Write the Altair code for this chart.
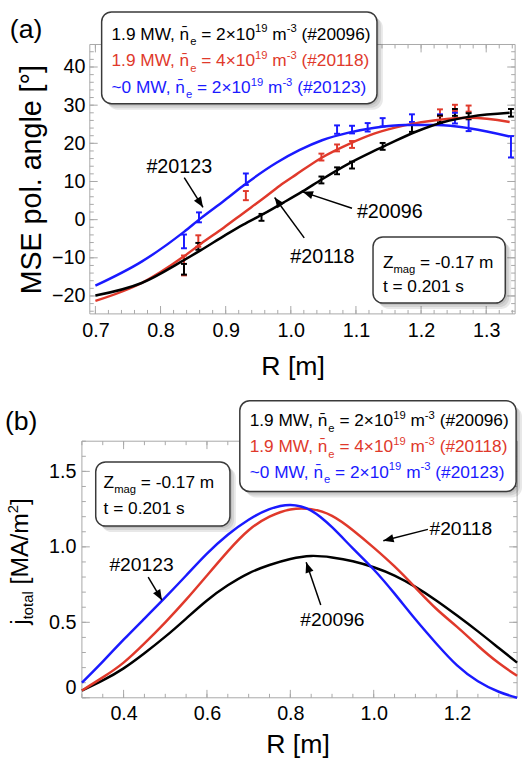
import math
import altair as alt
import pandas as pd

FONT = "Liberation Sans"
BLACK, RED, BLUE = "#000000", "#e0392b", "#1a1aff"
FRAME = "#a8a8a8"

# ---------------- panel (a): fitted MSE pitch-angle curves ----------------
a_black_R = [0.700, 0.771, 0.836, 0.862, 0.900, 0.927, 0.958, 0.990, 1.018, 1.048, 1.089, 1.124, 1.149, 1.190, 1.235, 1.276, 1.336]
a_black_ang = [-19.9, -16.6, -10.6, -8.0, -4.0, -1.3, 1.5, 4.6, 7.4, 10.6, 14.7, 17.7, 19.7, 22.9, 25.6, 27.0, 28.0]
a_red_R = [0.700, 0.771, 0.836, 0.862, 0.897, 0.927, 0.958, 0.983, 1.008, 1.048, 1.089, 1.129, 1.175, 1.225, 1.276, 1.336]
a_red_ang = [-21.3, -16.6, -9.6, -6.3, -2.1, 1.7, 5.6, 8.9, 11.8, 16.3, 19.8, 22.6, 24.7, 26.1, 26.7, 25.6]
a_blue_R = [0.700, 0.771, 0.836, 0.862, 0.897, 0.927, 0.978, 1.013, 1.048, 1.089, 1.129, 1.175, 1.225, 1.276, 1.336]
a_blue_ang = [-17.3, -11.0, -3.2, 0.4, 4.9, 8.9, 14.9, 18.2, 20.8, 22.8, 24.1, 24.8, 24.8, 23.9, 21.8]

# ---------------- panel (a): measured points with error bars ----------------
a_black_pR = [0.836, 0.858, 0.955, 1.047, 1.071, 1.094, 1.141, 1.186, 1.229, 1.252, 1.273, 1.338]
a_black_pA = [-13.0, -7.0, 0.6, 10.4, 12.8, 14.3, 19.2, 23.9, 26.4, 28.1, 27.1, 28.0]
a_black_pE = [1.4, 0.9, 0.9, 0.9, 0.9, 0.9, 0.9, 0.9, 0.9, 0.9, 0.8, 1.0]
a_red_pR = [0.836, 0.858, 0.931, 1.047, 1.071, 1.094, 1.229, 1.252, 1.273]
a_red_pA = [-12.0, -5.6, 6.3, 16.4, 18.8, 19.7, 28.0, 29.3, 29.1]
a_red_pE = [2.6, 1.5, 1.2, 0.9, 0.9, 0.9, 0.9, 0.8, 0.8]
a_blue_pR = [0.836, 0.859, 0.931, 1.071, 1.094, 1.118, 1.141, 1.186, 1.229, 1.252, 1.273, 1.338]
a_blue_pA = [-5.7, 0.6, 10.6, 23.6, 23.6, 24.2, 25.5, 26.6, 26.4, 26.6, 24.9, 19.1]
a_blue_pE = [1.8, 1.3, 1.5, 1.1, 1.0, 1.1, 1.1, 1.0, 1.2, 1.4, 1.7, 2.8]

# ---------------- panel (b): total current density ----------------
b_R = [0.30, 0.35, 0.40, 0.45, 0.50, 0.55, 0.60, 0.65, 0.70, 0.75, 0.80, 0.85, 0.90, 0.95,
       1.00, 1.05, 1.10, 1.15, 1.20, 1.25, 1.30, 1.344]
b_black_j = [0.048, 0.115, 0.195, 0.295, 0.405, 0.525, 0.645, 0.745, 0.825, 0.880, 0.920, 0.940, 0.930, 0.905,
             0.865, 0.810, 0.735, 0.645, 0.545, 0.440, 0.330, 0.233]
b_red_j = [0.048, 0.135, 0.233, 0.360, 0.500, 0.650, 0.810, 0.970, 1.110, 1.200, 1.248, 1.250, 1.205, 1.110,
           0.995, 0.870, 0.730, 0.590, 0.470, 0.345, 0.230, 0.146]
b_blue_j = [0.100, 0.240, 0.385, 0.525, 0.665, 0.810, 0.955, 1.080, 1.180, 1.250, 1.278, 1.240, 1.130, 0.990,
            0.850, 0.690, 0.520, 0.360, 0.215, 0.110, 0.040, 0.000]

# legend / annotation texts
legend_lines = [
    (BLACK, [("1.9 MW, n\u0304", "n"), ("e", "sub"), (" = 2\u00d710", "n"), ("19", "sup"), (" m", "n"), ("-3", "sup"), (" (#20096)", "n")]),
    (RED, [("1.9 MW, n\u0304", "n"), ("e", "sub"), (" = 4\u00d710", "n"), ("19", "sup"), (" m", "n"), ("-3", "sup"), (" (#20118)", "n")]),
    (BLUE, [("~0 MW, n\u0304", "n"), ("e", "sub"), (" = 2\u00d710", "n"), ("19", "sup"), (" m", "n"), ("-3", "sup"), (" (#20123)", "n")]),
]
zmag_lines = [
    [("Z", "n"), ("mag", "sub"), (" = -0.17 m", "n")],
    [("t = 0.201 s", "n")],
]

# ---------------- geometry ----------------
TW, TH = 431, 273
TXD, TYD = [0.6914, 1.3444], [-24.7, 45.9]
BW, BH = 433, 260
BX0 = -8
BXD, BYD = [0.3, 1.344], [0.0, 1.7]

CW = {'0': .556, '1': .556, '2': .556, '3': .556, '4': .556, '5': .556, '6': .556, '7': .556, '8': .556, '9': .556,
      '.': .278, ' ': .278, ',': .278, 'M': .833, 'W': .944, 'n': .556, 'e': .556, '=': .584, '\u00d7': .584,
      'm': .833, '-': .333, '(': .333, ')': .333, '#': .556, '~': .584, 'Z': .611, 'a': .556, 'g': .556,
      't': .278, 's': .5, 'o': .556, 'l': .222, 'j': .222, '[': .278, ']': .278, 'A': .667, '/': .278}


def tw(s, size):
    return sum(CW.get(c, 0.556) for c in s if c != '\u0304') * size


def seg_rows(segs, px0, py0, color, base=17.5):
    rows = []
    x = px0
    for txt, kind in segs:
        if kind == "n":
            sz, dy = base, 0.0
        elif kind == "sub":
            sz, dy = base * 0.65, base * 0.32
        else:
            sz, dy = base * 0.65, -base * 0.42
        lead = len(txt) - len(txt.lstrip(" "))
        rows.append(dict(text=txt.strip(), px=x + tw(" " * lead, sz), py=py0 + dy, size=sz, color=color, angle=0))
        x += tw(txt, sz)
    return rows


def make_panel(W, H, X0, xd, yd, xaxis, yaxis, curves, pts, texts_left, texts_center, boxes, arrows, ticks,
               interp="monotone", anchor=False):
    xr = [X0, W]
    pw = W - X0
    sx = pw / (xd[1] - xd[0])
    sy = H / (yd[1] - yd[0])

    def px2x(px):
        return xd[0] + (px - X0) / sx

    def py2y(py):
        return yd[1] - py / sy

    def X(f):
        return alt.X(f, type="quantitative", scale=alt.Scale(domain=xd, range=xr, nice=False, zero=False),
                     axis=xaxis, title=None)

    def Y(f):
        return alt.Y(f, type="quantitative", scale=alt.Scale(domain=yd, nice=False, zero=False),
                     axis=yaxis, title=None)

    layers = []
    if anchor:
        layers.append(alt.Chart(pd.DataFrame({"a": [0]})).mark_rect(opacity=0).encode(
            x=alt.value(-91), x2=alt.value(0), y=alt.value(-40), y2=alt.value(0)))
    # frame
    layers.append(alt.Chart(pd.DataFrame({"a": [0]})).mark_rect(fillOpacity=0, stroke=FRAME, strokeWidth=1).encode(
        x=alt.value(X0), x2=alt.value(W), y=alt.value(0), y2=alt.value(H)))
    # ticks
    (xmin, xmaj, ymin, ymaj) = ticks
    for vals, L in ((xmin, 4), (xmaj, 8)):
        d = pd.DataFrame({"v": vals})
        layers.append(alt.Chart(d).mark_rule(color=FRAME, strokeWidth=1).encode(
            x=X("v"), y=alt.value(H), y2=alt.value(H - L)))
        layers.append(alt.Chart(d).mark_rule(color=FRAME, strokeWidth=1).encode(
            x=X("v"), y=alt.value(0), y2=alt.value(L)))
    for vals, L in ((ymin, 4), (ymaj, 8)):
        d = pd.DataFrame({"v": vals})
        layers.append(alt.Chart(d).mark_rule(color=FRAME, strokeWidth=1).encode(
            y=Y("v"), x=alt.value(X0), x2=alt.value(X0 + L)))
        layers.append(alt.Chart(d).mark_rule(color=FRAME, strokeWidth=1).encode(
            y=Y("v"), x=alt.value(W), x2=alt.value(W - L)))
    # curves
    rows = []
    for name, color, R, V in curves:
        for r, v in zip(R, V):
            rows.append(dict(series=name, color=color, R=r, V=v))
    cdf = pd.DataFrame(rows)
    # error bars
    if pts:
        prow = []
        for name, color, R, V, E in pts:
            for r, v, e in zip(R, V, E):
                prow.append(dict(series=name, color=color, R=r, lo=v - e, hi=v + e,
                                 xl=r - 3.0 / sx, xr=r + 3.0 / sx))
        pdf = pd.DataFrame(prow)
        layers.append(alt.Chart(pdf).mark_rule(strokeWidth=2).encode(
            x=X("R"), y=Y("lo"), y2="hi", color=alt.Color("color:N", scale=None)))
        for f in ("lo", "hi"):
            layers.append(alt.Chart(pdf).mark_rule(strokeWidth=2).encode(
                x=X("xl"), x2="xr", y=Y(f), color=alt.Color("color:N", scale=None)))
    layers.append(alt.Chart(cdf).mark_line(interpolate=interp, strokeWidth=2.5).encode(
        x=X("R"), y=Y("V"), color=alt.Color("color:N", scale=None), detail="series:N"))
    # arrows
    arow = []
    for (x0, y0, x1, y1) in arrows:
        dx = (x1 - x0) * sx
        dy = -(y1 - y0) * sy
        ang = math.degrees(math.atan2(dx, -dy)) % 360
        arow.append(dict(x0=x0, y0=y0, x1=x1, y1=y1, ang=ang))
    adf = pd.DataFrame(arow)
    layers.append(alt.Chart(adf).mark_rule(color="black", strokeWidth=1.5).encode(
        x=X("x0"), y=Y("y0"), x2="x1", y2="y1"))
    layers.append(alt.Chart(adf).mark_point(shape="M0,0L-0.4,1L0.4,1Z", filled=True, color="black",
                                            opacity=1, size=440, strokeWidth=0).encode(
        x=X("x1"), y=Y("y1"), angle=alt.Angle("ang:Q", scale=None)))
    # boxes with shadows
    brow, srow = [], []
    for (bx0, by0, bx1, by1) in boxes:
        brow.append(dict(x0=px2x(bx0), x1=px2x(bx1), y0=py2y(by0), y1=py2y(by1)))
        for k in (2, 4, 6):
            srow.append(dict(x0=px2x(bx0 + k), x1=px2x(bx1 + k), y0=py2y(by0 + k), y1=py2y(by1 + k)))
    sdf = pd.DataFrame(srow)
    bdf = pd.DataFrame(brow)
    layers.append(alt.Chart(sdf).mark_rect(cornerRadius=10, color="#000000", opacity=0.09).encode(
        x=X("x0"), x2="x1", y=Y("y0"), y2="y1"))
    layers.append(alt.Chart(bdf).mark_rect(cornerRadius=10, fill="white", stroke="#3a3a3a", strokeWidth=1.5).encode(
        x=X("x0"), x2="x1", y=Y("y0"), y2="y1"))
    # text
    for rows_, align in ((texts_left, "left"), (texts_center, "center")):
        tdf = pd.DataFrame(rows_)
        tdf["x"] = [px2x(p) for p in tdf["px"]]
        tdf["y"] = [py2y(p) for p in tdf["py"]]
        layers.append(alt.Chart(tdf).mark_text(align=align, baseline="alphabetic", font=FONT).encode(
            x=X("x"), y=Y("y"), text="text:N", size=alt.Size("size:Q", scale=None),
            color=alt.Color("color:N", scale=None), angle=alt.Angle("angle:Q", scale=None)))
    return alt.layer(*layers).properties(width=W, height=H)


def frange(a, step, n, nd):
    return [round(a + step * i, nd) for i in range(n)]


# ---------------- panel (a) ----------------
tsx = TW / (TXD[1] - TXD[0])
tsy = TH / (TYD[1] - TYD[0])


def tx(px):
    return TXD[0] + px / tsx


def ty(py):
    return TYD[1] - py / tsy


ta_left = []
for i, (col, segs) in enumerate(legend_lines):
    ta_left += seg_rows(segs, 22, -5 + 27 * i, col)
for i, segs in enumerate(zmag_lines):
    ta_left += seg_rows(segs, 297, 226 + 25 * i, BLACK)
ta_left.append(dict(text="(a)", px=-81, py=-7, size=27, color=BLACK, angle=0))
ta_center = [
    dict(text="MSE pol. angle [\u00b0]", px=-49, py=137, size=29, color=BLACK, angle=270),
    dict(text="R [m]", px=206, py=335, size=27, color=BLACK, angle=0),
    dict(text="#20123", px=90.7, py=130.3, size=20, color=BLACK, angle=0),
    dict(text="#20096", px=304, py=176.3, size=20, color=BLACK, angle=0),
    dict(text="#20118", px=235.7, py=221, size=20, color=BLACK, angle=0),
]
a_arrows = [
    (tx(95.7), ty(135), tx(114.7), ty(165)),
    (tx(265.7), ty(166), tx(215.7), ty(149.3)),
    (tx(217.3), ty(196), tx(187.3), ty(155)),
]

xa = alt.Axis(values=frange(0.7, 0.1, 7, 1), format=".1f", labelFontSize=20, labelFont=FONT, labelColor="black",
              ticks=False, domain=False, grid=False, labelPadding=7, labelFlush=False)
ya = alt.Axis(values=frange(-20, 10, 7, 0), format="d", labelFontSize=20, labelFont=FONT, labelColor="black",
              ticks=False, domain=False, grid=False, labelPadding=5)

top = make_panel(
    TW, TH, 0, TXD, TYD, xa, ya,
    [("20118", RED, a_red_R, a_red_ang), ("20123", BLUE, a_blue_R, a_blue_ang), ("20096", BLACK, a_black_R, a_black_ang)],
    [("20118", RED, a_red_pR, a_red_pA, a_red_pE), ("20123", BLUE, a_blue_pR, a_blue_pA, a_blue_pE),
     ("20096", BLACK, a_black_pR, a_black_pA, a_black_pE)],
    ta_left, ta_center,
    [(12, -33, 291, 60), (287, 195, 421, 262)],
    a_arrows,
    (frange(0.70, 0.02, 33, 2), frange(0.7, 0.1, 7, 1), frange(-24, 2, 35, 0), frange(-20, 10, 7, 0)),
    anchor=True,
)

# ---------------- panel (b) ----------------
bsx = (BW - BX0) / (BXD[1] - BXD[0])
bsy = BH / (BYD[1] - BYD[0])


def bpx(x):
    return (x - BXD[0]) * bsx + BX0


def bpy(y):
    return (BYD[1] - y) * bsy


tb_left = []
for i, (col, segs) in enumerate(legend_lines):
    tb_left += seg_rows(segs, 162, -15 + 26 * i, col)
for i, segs in enumerate(zmag_lines):
    tb_left += seg_rows(segs, 14, 47 + 27 * i, BLACK)
tb_left.append(dict(text="(b)", px=-86, py=-11, size=27, color=BLACK, angle=0))
# rotated y title: j_total [MA/m^2]
u = 0.0
tx0, ty0 = -63, 186
for txt, sz, off in (("j", 25, 0), ("total", 15, 5), ("[MA/m", 25, 0), ("2", 15, -10), ("]", 25, 0)):
    if txt == "[MA/m":
        u += tw(" ", 25)
    tb_left.append(dict(text=txt, px=tx0 + off, py=ty0 - u, size=sz, color=BLACK, angle=270))
    u += tw(txt, sz)

tb_center = [
    dict(text="R [m]", px=211, py=316, size=27, color=BLACK, angle=0),
    dict(text="#20123", px=bpx(0.443), py=bpy(0.887) + 7, size=19.5, color=BLACK, angle=0),
    dict(text="#20096", px=bpx(0.901), py=bpy(0.521) + 7, size=19.5, color=BLACK, angle=0),
    dict(text="#20118", px=bpx(1.209), py=bpy(1.127) + 7, size=19.5, color=BLACK, angle=0),
]
b_arrows = [
    (0.459, 0.800, 0.492, 0.647),
    (0.873, 0.615, 0.838, 0.898),
    (1.130, 1.116, 1.023, 1.040),
]

xb = alt.Axis(values=frange(0.4, 0.2, 5, 1), format=".1f", labelFontSize=20, labelFont=FONT, labelColor="black",
              ticks=False, domain=False, grid=False, labelPadding=6, labelFlush=False)
yb = alt.Axis(values=[0.0, 0.5, 1.0, 1.5], labelExpr="datum.value == 0 ? '0' : format(datum.value, '.1f')",
              labelFontSize=20, labelFont=FONT, labelColor="black", ticks=False, domain=False, grid=False,
              labelPadding=6, offset=8, labelFlush=True)

bottom = make_panel(
    BW, BH, BX0, BXD, BYD, xb, yb,
    [("20096", BLACK, b_R, b_black_j), ("20118", RED, b_R, b_red_j), ("20123", BLUE, b_R, b_blue_j)],
    None,
    tb_left, tb_center,
    [(6, 21, 142, 86), (152, -41, 432, 51)],
    b_arrows,
    (frange(0.30, 0.05, 21, 2), frange(0.4, 0.2, 5, 1), frange(0.0, 0.1, 18, 1), [0.0, 0.5, 1.0, 1.5]),
    interp="natural",
)

chart = alt.vconcat(top, bottom, spacing=129, bounds="flush").properties(
    padding=0, background="white"
).configure_view(stroke=None)

chart.save("out.html", embed_options={"renderer": "svg", "actions": False})
